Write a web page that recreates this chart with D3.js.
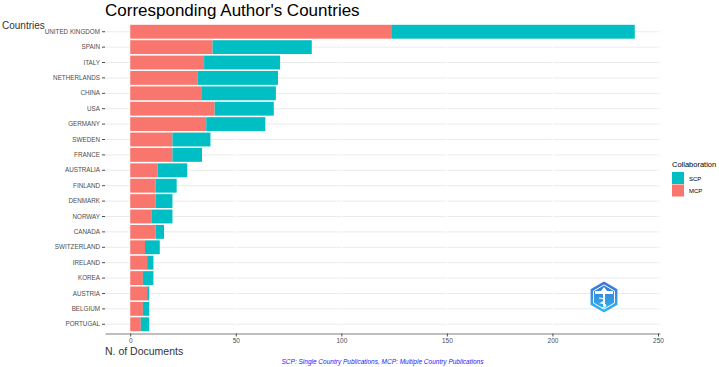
<!DOCTYPE html>
<html>
<head>
<meta charset="utf-8">
<script src="https://cdn.jsdelivr.net/npm/d3@7"></script>
<style>
  body { margin: 0; background: #fff; }
  text { font-family: "Liberation Sans", Arial, sans-serif; }
</style>
</head>
<body>
<svg width="719" height="367"></svg>
<script>
const countries = ['UNITED KINGDOM', 'SPAIN', 'ITALY', 'NETHERLANDS', 'CHINA', 'USA', 'GERMANY',
  'SWEDEN', 'FRANCE', 'AUSTRALIA', 'FINLAND', 'DENMARK', 'NORWAY', 'CANADA', 'SWITZERLAND',
  'IRELAND', 'KOREA', 'AUSTRIA', 'BELGIUM', 'PORTUGAL'];
const mcp = [124, 39, 35, 32, 34, 40, 36, 20, 20, 13, 12, 12, 10, 12, 7, 8, 6, 8, 6, 5];
const scp = [115, 47, 36, 38, 35, 28, 28, 18, 14, 14, 10, 8, 10, 4, 7, 3, 5, 1, 3, 4];
const xTicks = [0, 50, 100, 150, 200, 250];

const svg = d3.select('svg');
const margin = {top: 22.5, left: 105, right: 59, bottom: 33.5};
const width = +svg.attr('width');
const height = +svg.attr('height');
const innerWidth = width - margin.left - margin.right;
const innerHeight = height - margin.top - margin.bottom;

const data = countries.map((c, i) => ({country: c, mcp: mcp[i], scp: scp[i]}));
const maxTotal = d3.max(data, d => d.mcp + d.scp);

const xScale = d3.scaleLinear()
  .domain([-maxTotal * 0.05, maxTotal * 1.05])
  .range([0, innerWidth]);

const yScale = d3.scaleBand()
  .domain(countries)
  .range([0, innerHeight])
  .paddingInner(0.1)
  .paddingOuter(0.15);

const g = svg.append('g')
  .attr('transform', `translate(${margin.left},${margin.top})`);

// horizontal grid
g.selectAll('.hgrid').data(countries)
  .enter().append('line')
    .attr('x1', 0).attr('x2', innerWidth)
    .attr('y1', d => yScale(d) + yScale.bandwidth() / 2)
    .attr('y2', d => yScale(d) + yScale.bandwidth() / 2)
    .attr('stroke', '#ebebeb').attr('stroke-width', 1);

// white vertical grid
g.selectAll('.vgrid').data(xTicks)
  .enter().append('line')
    .attr('x1', d => xScale(d)).attr('x2', d => xScale(d))
    .attr('y1', 0).attr('y2', innerHeight)
    .attr('stroke', '#fff').attr('stroke-width', 1);

// bars
const bars = g.append('g');
bars.selectAll('.mcp').data(data)
  .enter().append('rect')
    .attr('x', xScale(0))
    .attr('y', d => yScale(d.country))
    .attr('width', d => xScale(d.mcp) - xScale(0))
    .attr('height', yScale.bandwidth())
    .attr('fill', '#F8766D');
bars.selectAll('.scp').data(data)
  .enter().append('rect')
    .attr('x', d => xScale(d.mcp))
    .attr('y', d => yScale(d.country))
    .attr('width', d => xScale(d.mcp + d.scp) - xScale(d.mcp))
    .attr('height', yScale.bandwidth())
    .attr('fill', '#00BFC4');

// y axis
const yAxisG = g.append('g').call(d3.axisLeft(yScale).tickSize(3).tickPadding(2));
yAxisG.select('.domain').remove();
yAxisG.selectAll('.tick line').attr('stroke', '#4d4d4d');
yAxisG.selectAll('text')
  .attr('fill', '#4d4d4d')
  .style('font-size', '6.3px');

// x axis
const xAxisG = g.append('g')
  .attr('transform', `translate(0,${innerHeight})`)
  .call(d3.axisBottom(xScale).tickValues(xTicks).tickSize(3).tickPadding(2).tickSizeOuter(0));
xAxisG.select('.domain').attr('stroke', '#7f7f7f');
xAxisG.selectAll('.tick line').attr('stroke', '#4d4d4d');
xAxisG.selectAll('text')
  .attr('fill', '#4d4d4d')
  .style('font-size', '6.5px');

// titles
svg.append('text')
  .attr('x', margin.left).attr('y', 16)
  .style('font-size', '17px').attr('fill', '#000')
  .text("Corresponding Author's Countries");

svg.append('text')
  .attr('x', 2).attr('y', 29)
  .style('font-size', '10px').attr('fill', '#333')
  .text('Countries');

svg.append('text')
  .attr('x', margin.left).attr('y', 355)
  .style('font-size', '10.5px').attr('fill', '#333')
  .text('N. of Documents');

svg.append('text')
  .attr('x', margin.left + innerWidth / 2).attr('y', 364)
  .attr('text-anchor', 'middle')
  .style('font-size', '6.5px').style('font-style', 'italic')
  .attr('fill', '#2222ff')
  .text('SCP: Single Country Publications, MCP: Multiple Country Publications');

// legend
const legend = svg.append('g').attr('transform', 'translate(672,0)');
legend.append('text')
  .attr('x', 0).attr('y', 167)
  .style('font-size', '7.5px').attr('fill', '#000')
  .text('Collaboration');
const legendItems = [{label: 'SCP', color: '#00BFC4'}, {label: 'MCP', color: '#F8766D'}];
legendItems.forEach((d, i) => {
  legend.append('rect')
    .attr('x', 0).attr('y', 172 + i * 12.5)
    .attr('width', 12).attr('height', 12)
    .attr('fill', d.color);
  legend.append('text')
    .attr('x', 17).attr('y', 180.5 + i * 12.5)
    .style('font-size', '6px').attr('fill', '#000')
    .text(d.label);
});

// logo
const defs = svg.append('defs');
const grad = defs.append('linearGradient').attr('id', 'logoGrad')
  .attr('x1', 0).attr('y1', 0).attr('x2', 0).attr('y2', 1);
grad.append('stop').attr('offset', '0%').attr('stop-color', '#3a6fd8');
grad.append('stop').attr('offset', '100%').attr('stop-color', '#2fb8f0');
const cx = 604, cy = 297, r = 15.5;
const hex = d3.range(6).map(k => {
  const a = Math.PI / 3 * k - Math.PI / 2;
  return [cx + r * Math.cos(a), cy + r * Math.sin(a)];
});
const logo = svg.append('g');
logo.append('polygon')
  .attr('points', hex.map(p => p.join(',')).join(' '))
  .attr('fill', 'url(#logoGrad)');
const hexIn = hex.map(p => [cx + (p[0] - cx) * 0.78, cy + (p[1] - cy) * 0.78]);
logo.append('polygon')
  .attr('points', hexIn.map(p => p.join(',')).join(' '))
  .attr('fill', 'none').attr('stroke', '#fff').attr('stroke-width', 1);
logo.append('rect').attr('x', cx - 9).attr('y', cy - 6).attr('width', 18).attr('height', 3).attr('fill', '#fff');
logo.append('path')
  .attr('d', `M${cx - 3},${cy - 6} L${cx},${cy - 10} L${cx + 3},${cy - 6} Z`).attr('fill', '#fff');
logo.append('rect').attr('x', cx - 1).attr('y', cy - 3).attr('width', 2).attr('height', 12).attr('fill', '#fff');
logo.append('path')
  .attr('d', `M${cx - 5},${cy + 1} Q${cx + 5},${cy + 2} ${cx - 3},${cy + 6} Q${cx + 6},${cy + 8} ${cx - 2},${cy + 11}`)
  .attr('fill', 'none').attr('stroke', '#fff').attr('stroke-width', 1.2);
</script>
</body>
</html>
